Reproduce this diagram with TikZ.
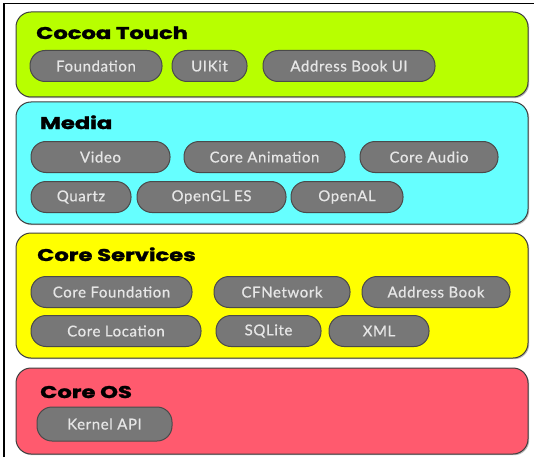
\documentclass[tikz,border=0pt]{standalone}
\usepackage{fontspec}
\setmainfont{Lato}
\newfontfamily\titlefont{Poppins}[BoldFeatures={FakeBold=1.5}]
\newfontfamily\pillfont{Lato}[LetterSpace=4,FakeBold=0.6]
\usetikzlibrary{shadows}
\definecolor{lime}{HTML}{B8FF00}
\definecolor{cyanl}{HTML}{66FFFF}
\definecolor{yell}{HTML}{FFFF00}
\definecolor{rosy}{HTML}{FF5A6E}
\definecolor{pillfill}{HTML}{777777}
\definecolor{pillline}{HTML}{4A4A4A}
\definecolor{pilltext}{HTML}{E6E6E6}
\definecolor{layline}{HTML}{3F3F3F}
\newcommand{\ttl}[1]{\scalebox{1.33}[1]{#1}}
\begin{document}
\begin{tikzpicture}[x=1pt,y=-1pt,
  layer/.style={draw=layline, line width=1pt, rounded corners=15pt, minimum width=512pt, inner sep=0pt,
    drop shadow={shadow xshift=1.2pt, shadow yshift=-1.2pt, opacity=0.45, fill=black!60}},
  ltitle/.style={anchor=base west, inner sep=0pt, font=\titlefont\bfseries\fontsize{17}{20}\selectfont, text=black},
  pill/.style={draw=pillline, fill=pillfill, line width=1pt, rounded corners=15pt, minimum height=31pt,
    inner sep=0pt, text=pilltext, font=\pillfont\fontsize{15}{17}\selectfont}
]
\useasboundingbox (0,0) rectangle (534,457);
\fill[white] (0,0) rectangle (534,457);
\draw[line width=1.3pt] (4,457) -- (4,3.5) -- (534,3.5);

% layers
\node[layer, fill=lime,  minimum height=85pt]  (cocoa)  at (272,54.5) {};
\node[layer, fill=cyanl, minimum height=122pt] (media)  at (272,163) {};
\node[layer, fill=yell,  minimum height=125pt] (cserv)  at (272,295.5) {};
\node[layer, fill=rosy,  minimum height=86pt]  (coreos) at (272,411) {};

% titles
\node[ltitle] (tcocoa) at (36,39)  {\ttl{Cocoa Touch}};
\node[ltitle] (tmedia) at (40,129) {\ttl{Media}};
\node[ltitle] (tcserv) at (37,261) {\ttl{Core Services}};
\node[ltitle] (tcos)   at (40,398) {\ttl{Core OS}};

% Cocoa Touch
\node[pill, minimum width=132pt] (foundation) at (96,66)    {Foundation};
\node[pill, minimum width=75pt]  (uikit)      at (209.5,66) {UIKit};
\node[pill, minimum width=172pt] (abui)       at (349,66)   {Address Book UI};

% Media
\node[pill, minimum width=139pt] (video)   at (100.5,157) {Video};
\node[pill, minimum width=161pt] (coreanim) at (264.5,157) {Core Animation};
\node[pill, minimum width=138pt] (coreaudio) at (429,157) {Core Audio};
\node[pill, minimum width=100pt] (quartz)  at (81,197)    {Quartz};
\node[pill, minimum width=149pt] (opengl)  at (211.5,197) {OpenGL ES};
\node[pill, minimum width=112pt] (openal)  at (347,197)   {OpenAL};

% Core Services
\node[pill, minimum width=161pt] (corefound) at (111.5,292) {Core Foundation};
\node[pill, minimum width=136pt] (cfnet)     at (282,292)   {CFNetwork};
\node[pill, minimum width=148pt] (abook)     at (436,292)   {Address Book};
\node[pill, minimum width=170pt] (coreloc)   at (116,331)   {Core Location};
\node[pill, minimum width=105pt] (sqlite)    at (268.5,331) {SQLite};
\node[pill, minimum width=100pt] (xml)       at (379,331)   {XML};

% Core OS
\node[pill, minimum width=135pt, minimum height=34pt] (kernel) at (104.5,424) {Kernel API};
\end{tikzpicture}
\end{document}
